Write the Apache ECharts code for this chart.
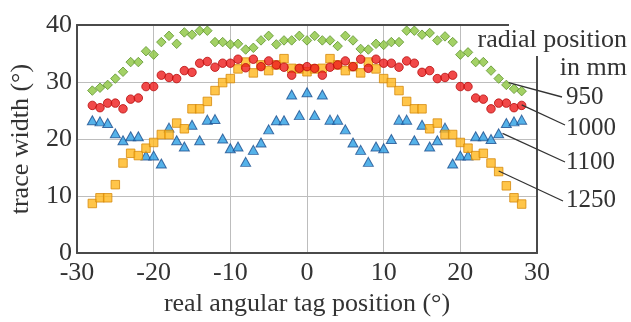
<!DOCTYPE html>
<html>
<head>
<meta charset="utf-8">
<script src="https://cdn.jsdelivr.net/npm/echarts@6/dist/echarts.min.js"></script>
<style>
  html, body { margin: 0; padding: 0; background: #fff; }
  #chart { width: 631px; height: 322px; }
</style>
</head>
<body>
<div id="chart"></div>
<script>
// angular positions (deg), shared by all four radial positions
const positions = [
  -28, -27, -26, -25, -24, -23, -22, -21, -20, -19, -18, -17, -16, -15, -14, -13, -12, -11, -10,
  -9, -8, -7, -6, -5, -4, -3, -2, -1, 0, 1, 2, 3, 4, 5, 6, 7, 8, 9,
  10, 11, 12, 13, 14, 15, 16, 17, 18, 19, 20, 21, 22, 23, 24, 25, 26, 27, 28
];

// trace width (deg) per radial position
const width950 = [
  28.5, 29.0, 29.5, 30.6, 31.8, 33.5, 33.5, 35.4, 34.8, 37.0, 38.1, 36.7, 38.7, 38.3, 39.0, 39.0, 37.0, 37.0, 36.6,
  36.7, 35.7, 36.0, 37.3, 38.1, 36.6, 37.3, 37.3, 38.1, 37.3, 38.1, 37.3, 37.3, 36.3, 38.1, 37.3, 35.8, 35.7, 36.7,
  36.5, 37.0, 37.0, 39.0, 39.0, 38.3, 38.6, 37.3, 38.0, 37.0, 34.8, 35.2, 33.5, 33.5, 32.0, 30.6, 29.5, 28.8, 28.4
];
const width1000 = [
  25.9, 25.5, 26.3, 26.3, 25.3, 27.0, 27.2, 29.2, 29.2, 31.2, 30.8, 30.6, 32.0, 31.7, 33.3, 33.6, 32.6, 33.3, 33.3,
  34.0, 32.5, 34.0, 32.7, 33.7, 33.0, 32.6, 31.2, 32.4, 32.7, 32.4, 31.2, 32.6, 33.0, 33.7, 32.7, 34.0, 32.4, 34.0,
  33.3, 33.3, 32.6, 33.7, 33.3, 31.7, 32.0, 30.6, 30.8, 31.2, 29.2, 29.2, 27.2, 27.0, 25.3, 26.3, 26.3, 25.5, 25.9
];
const width1100 = [
  23.3, 23.1, 22.8, 21.0, 19.8, 20.5, 20.5, 17.1, 17.1, 15.7, 22.0, 19.8, 18.7, 22.5, 19.8, 23.4, 23.5, 20.1, 18.4,
  18.7, 16.0, 18.1, 19.4, 21.7, 23.3, 23.3, 27.8, 24.2, 28.2, 24.2, 27.8, 23.4, 23.4, 21.7, 19.4, 18.1, 16.0, 18.7,
  18.4, 20.0, 23.4, 23.4, 19.8, 22.5, 18.7, 19.8, 22.0, 15.7, 17.1, 17.1, 20.5, 20.5, 20.0, 21.0, 22.8, 23.1, 23.4
];
const width1250 = [
  8.7, 9.7, 9.7, 12.0, 15.8, 17.5, 17.1, 18.4, 19.4, 20.8, 20.8, 22.8, 21.8, 25.3, 25.3, 26.6, 28.5, 29.9, 30.6,
  32.3, 33.5, 31.6, 33.0, 32.0, 33.0, 34.1, 32.4, 32.3, 31.8, 32.3, 32.4, 34.1, 33.0, 32.0, 32.7, 31.6, 33.5, 32.3,
  30.6, 29.9, 28.5, 26.6, 25.3, 25.3, 21.8, 22.8, 20.8, 20.8, 19.4, 18.4, 17.1, 17.5, 15.8, 14.3, 11.8, 9.7, 8.6
];

// labels and the data point each leader arrow points at
const radialLabels = ['950', '1000', '1100', '1250'];
const arrowTips = [[26.3, 29.9], [28.0, 26.0], [25.5, 21.0], [25.0, 14.4]];

const SERIF = '"Liberation Serif", "DejaVu Serif", serif';
const TEXT = '#333';
const FRAME = '#4a4a4a';

// label anchor (pixel) for each radial position, leader line runs from the tip to here
const labelAnchors = [
  { x: 562, y: 97 }, { x: 565, y: 125 }, { x: 565, y: 162 }, { x: 563, y: 201 }
];
const labelCentres = [98, 129, 163, 201];

const pairs = (ys) => positions.map((x, i) => [x, ys[i]]);

const leader = (k) => ({
  silent: true,
  animation: false,
  symbol: ['arrow', 'none'],
  symbolSize: [9, 0],
  label: { show: false },
  lineStyle: { color: '#333', width: 1.3, type: 'solid' },
  data: [[{ coord: arrowTips[k] }, labelAnchors[k]]],
});

const chart = echarts.init(document.getElementById('chart'), null, { renderer: 'canvas' });

const axisText = { color: TEXT, fontFamily: SERIF, fontSize: 26 };

const option = {
  animation: false,
  backgroundColor: '#fff',
  grid: { left: 76, right: 94, top: 25, bottom: 64, containLabel: false },
  xAxis: [
    {
      type: 'value',
      min: -30,
      max: 30,
      interval: 10,
      name: 'real angular tag position (°)',
      nameLocation: 'middle',
      nameGap: 37,
      nameTextStyle: { color: TEXT, fontFamily: SERIF, fontSize: 26 },
      axisLine: { show: true, onZero: false, lineStyle: { color: FRAME, width: 2 } },
      axisTick: { show: false },
      axisLabel: { ...axisText, margin: 7 },
      splitLine: { show: true, lineStyle: { color: '#bdbdbd', width: 1 } },
    },
    {
      type: 'value',
      position: 'top',
      min: -30,
      max: 30,
      axisLine: { show: true, onZero: false, lineStyle: { color: FRAME, width: 2 } },
      axisTick: { show: false },
      axisLabel: { show: false },
      splitLine: { show: false },
    },
  ],
  yAxis: [
    {
      type: 'value',
      min: 0,
      max: 40,
      interval: 10,
      name: 'trace width (°)',
      nameLocation: 'middle',
      nameGap: 43,
      nameTextStyle: { color: TEXT, fontFamily: SERIF, fontSize: 26 },
      axisLine: { show: true, onZero: false, lineStyle: { color: FRAME, width: 2 } },
      axisTick: { show: false },
      axisLabel: { ...axisText, margin: 5 },
      splitLine: { show: true, lineStyle: { color: '#bdbdbd', width: 1 } },
    },
    {
      type: 'value',
      position: 'right',
      min: 0,
      max: 40,
      axisLine: { show: true, onZero: false, lineStyle: { color: FRAME, width: 2 } },
      axisTick: { show: false },
      axisLabel: { show: false },
      splitLine: { show: false },
    },
  ],
  series: [
    {
      name: '1100',
      type: 'scatter',
      clip: false,
      symbol: 'triangle',
      symbolSize: [10, 9],
      itemStyle: { color: '#2a9fe4', borderColor: '#1d4f8e', borderWidth: 1 },
      data: pairs(width1100),
      markLine: leader(2),
    },
    {
      name: '1250',
      type: 'scatter',
      clip: false,
      symbol: 'rect',
      symbolSize: 8.5,
      itemStyle: { color: '#ffb71b', borderColor: '#d68a0c', borderWidth: 1 },
      data: pairs(width1250),
      markLine: leader(3),
    },
    {
      name: '1000',
      type: 'scatter',
      clip: false,
      symbol: 'circle',
      symbolSize: 8.5,
      itemStyle: { color: '#ee1c1c', borderColor: '#b80f0f', borderWidth: 1 },
      data: pairs(width1000),
      markLine: leader(1),
    },
    {
      name: '950',
      type: 'scatter',
      clip: false,
      symbol: 'diamond',
      symbolSize: [9.5, 9.5],
      itemStyle: { color: '#8cc63f', borderColor: '#5f9430', borderWidth: 1 },
      data: pairs(width950),
      markLine: leader(0),
    },
  ],
  graphic: [
    // white patch that opens the frame corner behind the legend title
    {
      type: 'rect',
      z: 50,
      silent: true,
      shape: { x: 509, y: 0, width: 122, height: 56 },
      style: { fill: '#fff' },
    },
    {
      type: 'text',
      z: 60,
      right: 4,
      top: 27,
      style: { text: 'radial position', fill: TEXT, font: '26px ' + SERIF },
    },
    {
      type: 'text',
      z: 60,
      right: 4,
      top: 55,
      style: { text: 'in mm', fill: TEXT, font: '26px ' + SERIF },
    },
    ...radialLabels.map((t, k) => ({
      type: 'text',
      z: 60,
      left: 566,
      top: labelCentres[k] - 13,
      style: { text: t, fill: TEXT, font: '25px ' + SERIF },
    })),
  ],
};

chart.setOption(option);
</script>
</body>
</html>
